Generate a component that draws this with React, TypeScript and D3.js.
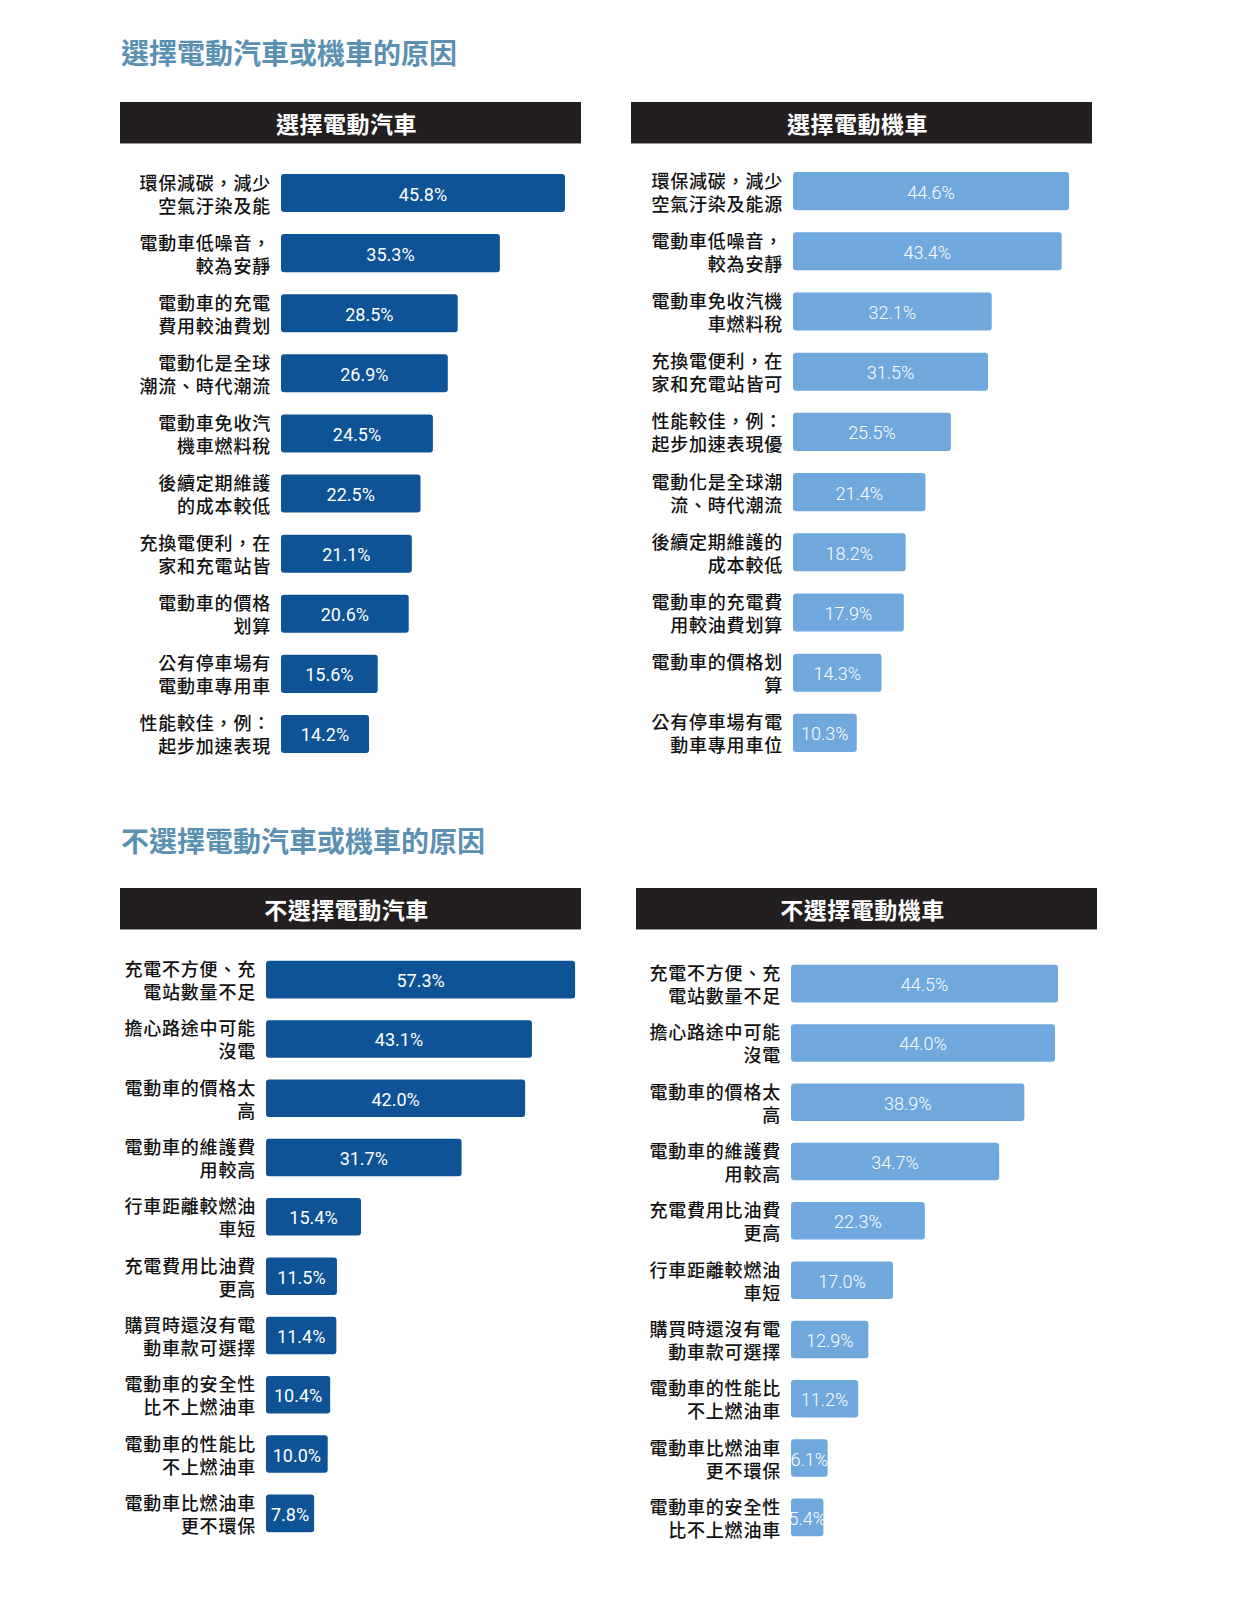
import React from "react";
import * as d3 from "d3";

// ---------- DATA ----------
const carChooseLabels = [
  ["環保減碳，減少", "空氣汙染及能"],
  ["電動車低噪音，", "較為安靜"],
  ["電動車的充電", "費用較油費划"],
  ["電動化是全球", "潮流、時代潮流"],
  ["電動車免收汽", "機車燃料稅"],
  ["後續定期維護", "的成本較低"],
  ["充換電便利，在", "家和充電站皆"],
  ["電動車的價格", "划算"],
  ["公有停車場有", "電動車專用車"],
  ["性能較佳，例：", "起步加速表現"],
];
const carChooseValues = [45.8, 35.3, 28.5, 26.9, 24.5, 22.5, 21.1, 20.6, 15.6, 14.2];

const bikeChooseLabels = [
  ["環保減碳，減少", "空氣汙染及能源"],
  ["電動車低噪音，", "較為安靜"],
  ["電動車免收汽機", "車燃料稅"],
  ["充換電便利，在", "家和充電站皆可"],
  ["性能較佳，例：", "起步加速表現優"],
  ["電動化是全球潮", "流、時代潮流"],
  ["後續定期維護的", "成本較低"],
  ["電動車的充電費", "用較油費划算"],
  ["電動車的價格划", "算"],
  ["公有停車場有電", "動車專用車位"],
];
const bikeChooseValues = [44.6, 43.4, 32.1, 31.5, 25.5, 21.4, 18.2, 17.9, 14.3, 10.3];

const carRejectLabels = [
  ["充電不方便、充", "電站數量不足"],
  ["擔心路途中可能", "沒電"],
  ["電動車的價格太", "高"],
  ["電動車的維護費", "用較高"],
  ["行車距離較燃油", "車短"],
  ["充電費用比油費", "更高"],
  ["購買時還沒有電", "動車款可選擇"],
  ["電動車的安全性", "比不上燃油車"],
  ["電動車的性能比", "不上燃油車"],
  ["電動車比燃油車", "更不環保"],
];
const carRejectValues = [57.3, 43.1, 42.0, 31.7, 15.4, 11.5, 11.4, 10.4, 10.0, 7.8];

const bikeRejectLabels = [
  ["充電不方便、充", "電站數量不足"],
  ["擔心路途中可能", "沒電"],
  ["電動車的價格太", "高"],
  ["電動車的維護費", "用較高"],
  ["充電費用比油費", "更高"],
  ["行車距離較燃油", "車短"],
  ["購買時還沒有電", "動車款可選擇"],
  ["電動車的性能比", "不上燃油車"],
  ["電動車比燃油車", "更不環保"],
  ["電動車的安全性", "比不上燃油車"],
];
const bikeRejectValues = [44.5, 44.0, 38.9, 34.7, 22.3, 17.0, 12.9, 11.2, 6.1, 5.4];

const sectionTitles = ["選擇電動汽車或機車的原因", "不選擇電動汽車或機車的原因"];
const panelTitles = ["選擇電動汽車", "選擇電動機車", "不選擇電動汽車", "不選擇電動機車"];

// ---------- STYLE ----------
const DARK = "#0E5395";
const LIGHT = "#6FA8DC";
const HEADER = "#231F20";
const TITLE = "#5B90B2";
const CJK = "'Noto Sans CJK TC', 'Noto Sans CJK SC', sans-serif";
const NUM = "Roboto, 'Liberation Sans', sans-serif";

type PanelProps = {
  title: string;
  labels: string[][];
  values: number[];
  color: string;
  headerX: number;
  headerY: number;
  barX: number;
  pxPerPct: number;
  maxPct: number;
  y0: number;
  y1: number;
  valueWeight: number;
};

function Panel(p: PanelProps) {
  const idx = p.values.map((_, i) => String(i));
  const y = d3.scaleBand().domain(idx).range([p.y0, p.y1]).paddingInner(0.367).paddingOuter(0.183);
  const x = d3
    .scaleLinear()
    .domain([0, p.maxPct])
    .range([p.barX, p.barX + p.maxPct * p.pxPerPct])
    .clamp(true);
  const hw = 461;
  return (
    <g>
      <rect x={p.headerX} y={p.headerY} width={hw} height={41} fill={HEADER} />
      <line x1={p.headerX} x2={p.headerX + hw} y1={p.headerY + 41.5} y2={p.headerY + 41.5} stroke="#9a9a9a" strokeWidth={1} />
      <text
        x={p.headerX + hw / 2 - 4}
        y={p.headerY + 21}
        fill="#fff"
        fontFamily={CJK}
        fontWeight={700}
        fontSize={23}
        textAnchor="middle"
        dominantBaseline="central"
        letterSpacing={0.5}
      >
        {p.title}
      </text>
      {p.values.map((v, i) => {
        const by = y(String(i)) as number;
        const bh = y.bandwidth();
        const bx = x(0);
        const bw = x(v) - x(0);
        const cy = by + bh / 2;
        return (
          <g key={i}>
            <rect x={bx} y={by} width={bw} height={bh} rx={3} fill={p.color} />
            <text
              x={bx + bw / 2}
              y={cy + 1}
              fill="#fff"
              fontFamily={NUM}
              fontWeight={p.valueWeight}
              fontSize={18}
              textAnchor="middle"
              dominantBaseline="central"
            >
              {v.toFixed(1)}%
            </text>
            {p.labels[i].map((line, j) => (
              <text
                key={j}
                x={bx - 10}
                y={cy - 11.5 + j * 23}
                fill="#111"
                fontFamily={CJK}
                fontWeight={500}
                fontSize={18}
                letterSpacing={0.8}
                textAnchor="end"
                dominantBaseline="central"
              >
                {line}
              </text>
            ))}
          </g>
        );
      })}
    </g>
  );
}

export default function App() {
  return (
    <div style={{ position: "fixed", left: 0, top: 0, width: 1241, height: 1614, overflow: "hidden", background: "#fff" }}>
      <svg width={1241} height={1614} style={{ display: "block" }}>
        <rect width={1241} height={1614} fill="#fff" />
        <text x={121} y={52} fill={TITLE} fontFamily={CJK} fontWeight={700} fontSize={28} dominantBaseline="central">
          {sectionTitles[0]}
        </text>
        <text x={121} y={840} fill={TITLE} fontFamily={CJK} fontWeight={700} fontSize={28} dominantBaseline="central">
          {sectionTitles[1]}
        </text>
        <Panel
          title={panelTitles[0]}
          labels={carChooseLabels}
          values={carChooseValues}
          color={DARK}
          headerX={120}
          headerY={102}
          barX={281}
          pxPerPct={6.2}
          maxPct={60}
          y0={163}
          y1={764}
          valueWeight={400}
        />
        <Panel
          title={panelTitles[1]}
          labels={bikeChooseLabels}
          values={bikeChooseValues}
          color={LIGHT}
          headerX={631}
          headerY={102}
          barX={793}
          pxPerPct={6.19}
          maxPct={60}
          y0={161}
          y1={763}
          valueWeight={300}
        />
        <Panel
          title={panelTitles[2]}
          labels={carRejectLabels}
          values={carRejectValues}
          color={DARK}
          headerX={120}
          headerY={888}
          barX={266}
          pxPerPct={6.17}
          maxPct={50.1}
          y0={950}
          y1={1543}
          valueWeight={400}
        />
        <Panel
          title={panelTitles[3]}
          labels={bikeRejectLabels}
          values={bikeRejectValues}
          color={LIGHT}
          headerX={636}
          headerY={888}
          barX={791}
          pxPerPct={6.0}
          maxPct={60}
          y0={954}
          y1={1547}
          valueWeight={300}
        />
      </svg>
    </div>
  );
}
